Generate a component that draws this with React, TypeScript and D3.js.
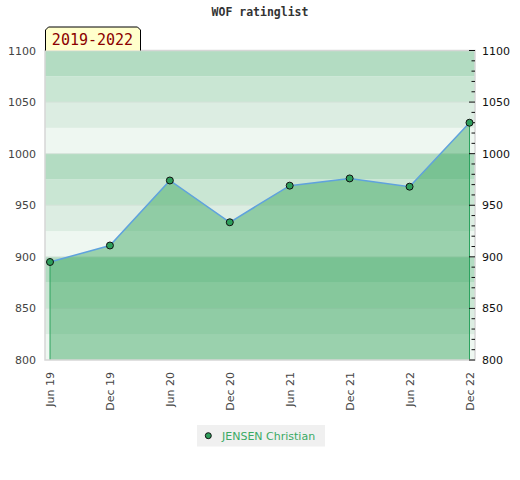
import React from "react";
import * as d3 from "d3";

const categories = ["Jun 19", "Dec 19", "Jun 20", "Dec 20", "Jun 21", "Dec 21", "Jun 22", "Dec 22"];
const ratings = [895, 911, 974, 933.5, 969, 976, 968, 1030];
const yTicks = [800, 850, 900, 950, 1000, 1050, 1100];
const seriesName = "JENSEN Christian";
const titleText = "WOF ratinglist";
const periodLabel = "2019-2022";

const bandColors = ["#b3dcc2", "#c9e6d3", "#dcede2", "#eef7f1"];

export default function App() {
  const W = 520, H = 480;
  const left = 45, right = 475, top = 50.5, bottom = 360;
  const x = d3.scalePoint<string>().domain(categories).range([50, 469.5]);
  const y = d3.scaleLinear().domain([800, 1100]).range([bottom, top]);

  const bands = d3.range(800, 1100, 25).map((v) => ({ v0: v, v1: v + 25, idx: Math.round((1100 - (v + 25)) / 25) % 4 }));
  const minorTicks = d3.range(800, 1101, 10);

  const pts = categories.map((c, i) => [x(c) as number, y(ratings[i])] as [number, number]);
  const line = d3.line()(pts) as string;
  const area = d3.area<[number, number]>().x((d) => d[0]).y0(bottom).y1((d) => d[1])(pts) as string;

  const font = "'DejaVu Sans', sans-serif";
  const mono = "'DejaVu Sans Mono', 'Liberation Mono', monospace";

  return (
    <svg width={W} height={H} style={{ display: "block", position: "absolute", left: 0, top: 0 }}>
      <rect width={W} height={H} fill="#fff" />
      <text x={260} y={16} textAnchor="middle" fontFamily={mono} fontSize={11.5} fontWeight="bold" fill="#333">
        {titleText}
      </text>
      {bands.map((b) => (
        <rect key={b.v0} x={left} width={right - left} y={y(b.v1)} height={y(b.v0) - y(b.v1)} fill={bandColors[b.idx]} />
      ))}
      {yTicks.slice(1, -1).map((t) => (
        <line key={t} x1={left} x2={right} y1={y(t)} y2={y(t)} stroke="#d4e2d8" strokeWidth={1} />
      ))}
      <path d={area} fill="rgb(47,161,87)" fillOpacity={0.44} />
      <line x1={pts[0][0]} x2={pts[0][0]} y1={pts[0][1]} y2={bottom} stroke="#2ca25f" strokeWidth={1} />
      <line x1={pts[pts.length - 1][0]} x2={pts[pts.length - 1][0]} y1={pts[pts.length - 1][1]} y2={bottom} stroke="#2ca25f" strokeWidth={1} />
      <path d={line} fill="none" stroke="#5fa2dd" strokeWidth={1.5} />
      <rect x={left} y={top} width={right - left} height={bottom - top} fill="none" stroke="#d6d6d6" strokeWidth={1.5} />
      {minorTicks.map((t) => (
        <line key={t} x1={t % 50 === 0 ? 469 : 471.5} x2={right} y1={y(t)} y2={y(t)} stroke="#111" strokeWidth={1} />
      ))}
      {pts.map((p, i) => (
        <circle key={i} cx={p[0]} cy={p[1]} r={3.5} fill="#2e9e5b" stroke="#111" strokeWidth={1} />
      ))}
      {yTicks.map((t) => (
        <g key={t}>
          <text x={36} y={y(t) + 4} textAnchor="end" fontFamily={font} fontSize={11} fill="#444">{t}</text>
          <text x={482} y={y(t) + 4} textAnchor="start" fontFamily={font} fontSize={11} fill="#111">{t}</text>
        </g>
      ))}
      {categories.map((c) => (
        <text key={c} transform={`translate(${(x(c) as number) + 4},372) rotate(-90)`} textAnchor="end" fontFamily={font} fontSize={11} fill="#444">
          {c}
        </text>
      ))}
      <path d="M45.5,50.5 L45.5,30 L48.5,27 L137.5,27 L140.5,30 L140.5,50.5" fill="#ffffcc" stroke="#000" strokeWidth={1} />
      <text x={92.5} y={45} textAnchor="middle" fontFamily={mono} fontSize={15} fill="#8b0000">{periodLabel}</text>
      <rect x={197} y={425} width={128} height={21.5} fill="#f0f0f0" />
      <circle cx={208.3} cy={435.7} r={3} fill="#2e9e5b" stroke="#111" strokeWidth={1} />
      <text x={222} y={440} fontFamily={font} fontSize={11} fill="#3aaa64">{seriesName}</text>
    </svg>
  );
}
